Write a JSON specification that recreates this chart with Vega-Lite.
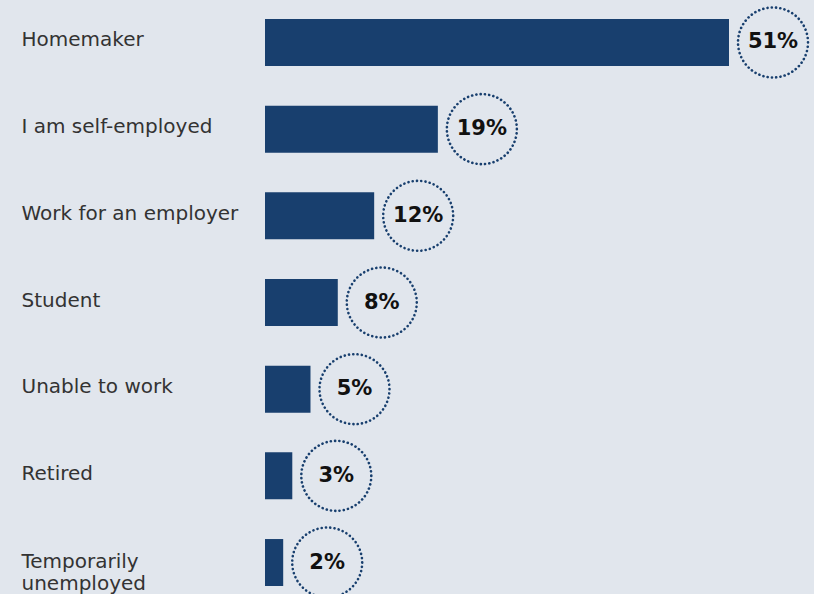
{
  "$schema": "https://vega.github.io/schema/vega-lite/v6.json",
  "width": 464,
  "height": 605,
  "autosize": "none",
  "padding": {"left": 265, "top": 0, "right": 85, "bottom": 0},
  "background": "#e1e6ed",
  "config": {"view": {"stroke": null}},
  "data": {
    "values": [
      {"status": "Homemaker", "share": 0.51},
      {"status": "I am self-employed", "share": 0.19},
      {"status": "Work for an employer", "share": 0.12},
      {"status": "Student", "share": 0.08},
      {"status": "Unable to work", "share": 0.05},
      {"status": "Retired", "share": 0.03},
      {"status": "Temporarily unemployed", "share": 0.02}
    ]
  },
  "encoding": {
    "y": {
      "field": "status",
      "type": "nominal",
      "sort": null,
      "scale": {"paddingInner": 0.458, "paddingOuter": 0.219},
      "axis": {
        "title": null,
        "domain": false,
        "ticks": false,
        "grid": false,
        "labelAlign": "left",
        "labelPadding": 244,
        "labelLimit": 300,
        "labelFont": "DejaVu Sans",
        "labelFontSize": 20,
        "labelLineHeight": 22,
        "labelColor": "#333333",
        "labelBaseline": "middle",
        "labelExpr": "datum.label == 'Temporarily unemployed' ? ['Temporarily', 'unemployed'] : datum.label",
        "labelOffset": {"condition": {"test": "datum.label == 'Temporarily unemployed'", "value": -1}, "value": -2}
      }
    },
    "x": {
      "field": "share",
      "type": "quantitative",
      "scale": {"domain": [0, 0.51], "nice": false},
      "axis": null
    }
  },
  "layer": [
    {"mark": {"type": "bar", "color": "#183f6e"}},
    {"mark": {"type": "point", "shape": "circle", "size": 4900, "filled": false, "stroke": "#183f6e", "strokeWidth": 2.6, "strokeDash": [0.1, 4.2], "strokeCap": "round", "xOffset": 44, "opacity": 1}},
    {
      "mark": {"type": "text", "xOffset": 44, "font": "DejaVu Sans", "fontWeight": "bold", "fontSize": 21, "color": "#111111", "baseline": "middle"},
      "encoding": {"text": {"field": "share", "type": "quantitative", "format": ".0%"}}
    }
  ]
}
